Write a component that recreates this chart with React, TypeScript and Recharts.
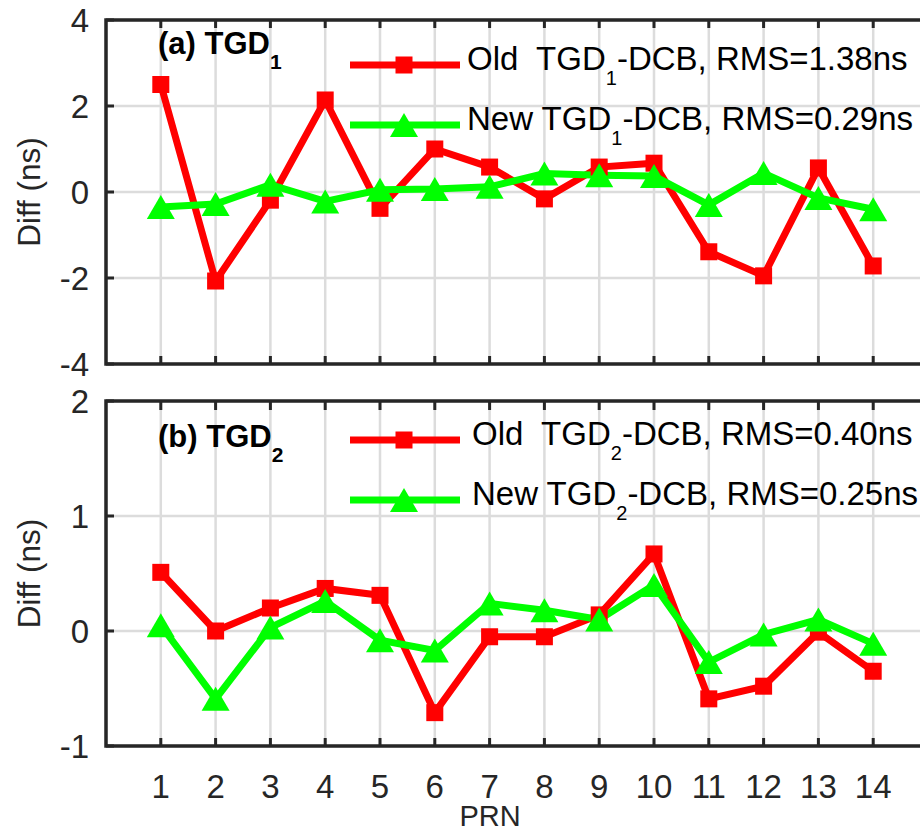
import { LineChart, Line, XAxis, YAxis, CartesianGrid, ReferenceArea, Legend } from "recharts";

// PRN on the x axis, differences in ns on y
const PRN = [1, 2, 3, 4, 5, 6, 7, 8, 9, 10, 11, 12, 13, 14];
const OLD_TGD1 = [2.5, -2.07, -0.19, 2.14, -0.38, 1.0, 0.58, -0.16, 0.58, 0.67, -1.39, -1.95, 0.56, -1.72];
const NEW_TGD1 = [-0.35, -0.28, 0.17, -0.22, 0.05, 0.07, 0.12, 0.43, 0.39, 0.37, -0.3, 0.44, -0.14, -0.4];
const OLD_TGD2 = [0.51, 0.0, 0.2, 0.37, 0.31, -0.71, -0.05, -0.05, 0.14, 0.67, -0.59, -0.48, -0.01, -0.35];
const NEW_TGD2 = [0.05, -0.59, 0.03, 0.26, -0.08, -0.17, 0.24, 0.18, 0.1, 0.4, -0.27, -0.03, 0.1, -0.11];

const TICKS_A = [-4, -2, 0, 2, 4];
const TICKS_B = [-1, 0, 1, 2];

const LEGEND_A = [
    { pre: "Old  TGD", sub: "1", post: "-DCB, RMS=1.38ns" },
    { pre: "New TGD", sub: "1", post: "-DCB, RMS=0.29ns" },
];
const LEGEND_B = [
    { pre: "Old  TGD", sub: "2", post: "-DCB, RMS=0.40ns" },
    { pre: "New TGD", sub: "2", post: "-DCB, RMS=0.25ns" },
];

const SERIES_KEYS = ["old", "neu"];

const RED = "#ff0000";
const GREEN = "#00ff00";
const INK = "#262626";
const GRID = "#dcdcdc";
const FONT = '"Liberation Sans", Arial, Helvetica, sans-serif';

const CHART_W = 940;
const PLOT_W = 822;
const PLOT_H = 344;

const SquareDot = (p: any) =>
    p.cx == null ? <g key={p.key} /> : <rect key={p.key} x={p.cx - 8.5} y={p.cy - 8.5} width={17} height={17} fill={RED} />;

const TriangleDot = (p: any) =>
    p.cx == null ? (
        <g key={p.key} />
    ) : (
        <polygon key={p.key} points={`${p.cx},${p.cy - 12} ${p.cx - 14},${p.cy + 12} ${p.cx + 14},${p.cy + 12}`} fill={GREEN} />
    );

// inward ticks on both x edges, labels only on the lower panel
const XTick = ({ x, y, payload, showLabel }: any) => (
    <g>
        <line x1={x} x2={x} y1={y} y2={y - 8} stroke={INK} strokeWidth={3} />
        <line x1={x} x2={x} y1={y - PLOT_H} y2={y - PLOT_H + 8} stroke={INK} strokeWidth={3} />
        {showLabel && (
            <text x={x} y={y + 52} textAnchor="middle" fill={INK} style={{ fontFamily: FONT, fontSize: 33 }}>
                {payload.value}
            </text>
        )}
    </g>
);

const YTick = ({ x, y, payload }: any) => (
    <g>
        <line x1={x} x2={x + 8} y1={y} y2={y} stroke={INK} strokeWidth={3} />
        <line x1={x + PLOT_W - 8} x2={x + PLOT_W} y1={y} y2={y} stroke={INK} strokeWidth={3} />
        <text x={x - 17} y={y + 12} textAnchor="end" fill={INK} style={{ fontFamily: FONT, fontSize: 33 }}>
            {payload.value}
        </text>
    </g>
);

const YLabel = ({ viewBox }: any) => {
    const cy = viewBox.y + viewBox.height / 2;
    return (
        <text
            x={29}
            y={cy}
            transform={`rotate(-90 29 ${cy})`}
            textAnchor="middle"
            dominantBaseline="central"
            fill={INK}
            style={{ fontFamily: FONT, fontSize: 31.5 }}
        >
            Diff (ns)
        </text>
    );
};

const XLabel = ({ viewBox }: any) => (
    <text x={490} y={viewBox.y + 80} textAnchor="middle" fill={INK} style={{ fontFamily: FONT, fontSize: 29 }}>
        PRN
    </text>
);

type PanelProps = {
    oldVals: number[];
    newVals: number[];
    domain: [number, number];
    ticks: number[];
    legend: { pre: string; sub: string; post: string }[];
    title: string;
    titleSub: string;
    titleBase: number;
    height: number;
    top: number;
    marginTop: number;
    marginBottom: number;
    legendTop: number;
    legendBase: number;
    legendTextX: number;
    showX: boolean;
};

function Panel(props: PanelProps) {
    const data = PRN.map((prn, i) => ({ prn, old: props.oldVals[i], neu: props.newVals[i] }));
    const { legend, legendBase, legendTextX } = props;

    const renderLegend = (lp: any) => {
        const entries = [...(lp.payload || [])].sort(
            (a: any, b: any) => SERIES_KEYS.indexOf(a.dataKey) - SERIES_KEYS.indexOf(b.dataKey)
        );
        return (
            <svg width={920} height={150} style={{ overflow: "visible", display: "block" }}>
                <text x={158} y={props.titleBase} fill="#000" style={{ fontFamily: FONT, fontSize: 31, fontWeight: 700 }}>
                    {props.title}
                    <tspan dy={15} style={{ fontSize: 21 }}>{props.titleSub}</tspan>
                </text>
                {entries.map((entry: any, i: number) => {
                    const base = legendBase + i * 60;
                    const ly = base - 5;
                    const item = legend[i];
                    return (
                        <g key={entry.dataKey}>
                            <line x1={350} x2={460} y1={ly} y2={ly} stroke={entry.color} strokeWidth={7} />
                            {entry.dataKey === "old" ? (
                                <rect x={404 - 8.5} y={ly - 8.5} width={17} height={17} fill={entry.color} />
                            ) : (
                                <polygon points={`404,${ly - 12} 390,${ly + 12} 418,${ly + 12}`} fill={entry.color} />
                            )}
                            <text x={legendTextX} y={base} fill="#000" style={{ fontFamily: FONT, fontSize: 33, whiteSpace: "pre" }}>
                                {item.pre}
                                <tspan dy={15} style={{ fontSize: 20 }}>{item.sub}</tspan>
                                <tspan dy={-15}>{item.post}</tspan>
                            </text>
                        </g>
                    );
                })}
            </svg>
        );
    };

    return (
        <div style={{ position: "absolute", left: 0, top: props.top }}>
            <LineChart
                width={CHART_W}
                height={props.height}
                data={data}
                margin={{ top: props.marginTop, right: 12, bottom: props.marginBottom, left: 66 }}
            >
                <CartesianGrid stroke={GRID} strokeWidth={2.5} />
                <XAxis
                    dataKey="prn"
                    type="number"
                    domain={[0, 15]}
                    ticks={PRN}
                    interval={0}
                    allowDataOverflow
                    axisLine={false}
                    tickLine={false}
                    tickSize={0}
                    tickMargin={0}
                    height={30}
                    tick={(p: any) => <XTick {...p} showLabel={props.showX} />}
                    label={props.showX ? <XLabel /> : undefined}
                />
                <YAxis
                    type="number"
                    domain={props.domain}
                    ticks={props.ticks}
                    interval={0}
                    allowDataOverflow
                    axisLine={false}
                    tickLine={false}
                    tickSize={0}
                    tickMargin={0}
                    width={40}
                    tick={(p: any) => <YTick {...p} />}
                    label={<YLabel />}
                />
                <ReferenceArea
                    x1={0}
                    x2={15}
                    y1={props.domain[0]}
                    y2={props.domain[1]}
                    fill="none"
                    stroke={INK}
                    strokeWidth={3.5}
                    ifOverflow="visible"
                />
                <Line
                    dataKey="old"
                    name="old"
                    type="linear"
                    stroke={RED}
                    strokeWidth={7}
                    dot={SquareDot}
                    activeDot={false}
                    isAnimationActive={false}
                />
                <Line
                    dataKey="neu"
                    name="new"
                    type="linear"
                    stroke={GREEN}
                    strokeWidth={7}
                    dot={TriangleDot}
                    activeDot={false}
                    isAnimationActive={false}
                />
                <Legend
                    layout="horizontal"
                    align="center"
                    verticalAlign="middle"
                    content={renderLegend}
                    wrapperStyle={{ position: "absolute", left: 0, top: props.legendTop, width: 920, height: 150 }}
                />
            </LineChart>
        </div>
    );
}

export default function App() {
    return (
        <div
            style={{
                position: "absolute",
                left: 0,
                top: 0,
                width: 920,
                height: 831,
                overflow: "hidden",
                background: "#fff",
                fontFamily: FONT,
            }}
        >
            <Panel
                oldVals={OLD_TGD1}
                newVals={NEW_TGD1}
                domain={[-4, 4]}
                ticks={TICKS_A}
                legend={LEGEND_A}
                title="(a) TGD"
                titleSub="1"
                titleBase={29}
                height={400}
                top={0}
                marginTop={20}
                marginBottom={6}
                legendTop={25}
                legendBase={45}
                legendTextX={467}
                showX={false}
            />
            <Panel
                oldVals={OLD_TGD2}
                newVals={NEW_TGD2}
                domain={[-1, 2]}
                ticks={TICKS_B}
                legend={LEGEND_B}
                title="(b) TGD"
                titleSub="2"
                titleBase={47}
                height={451}
                top={380}
                marginTop={21}
                marginBottom={55}
                legendTop={20}
                legendBase={45}
                legendTextX={472}
                showX={true}
            />
        </div>
    );
}
